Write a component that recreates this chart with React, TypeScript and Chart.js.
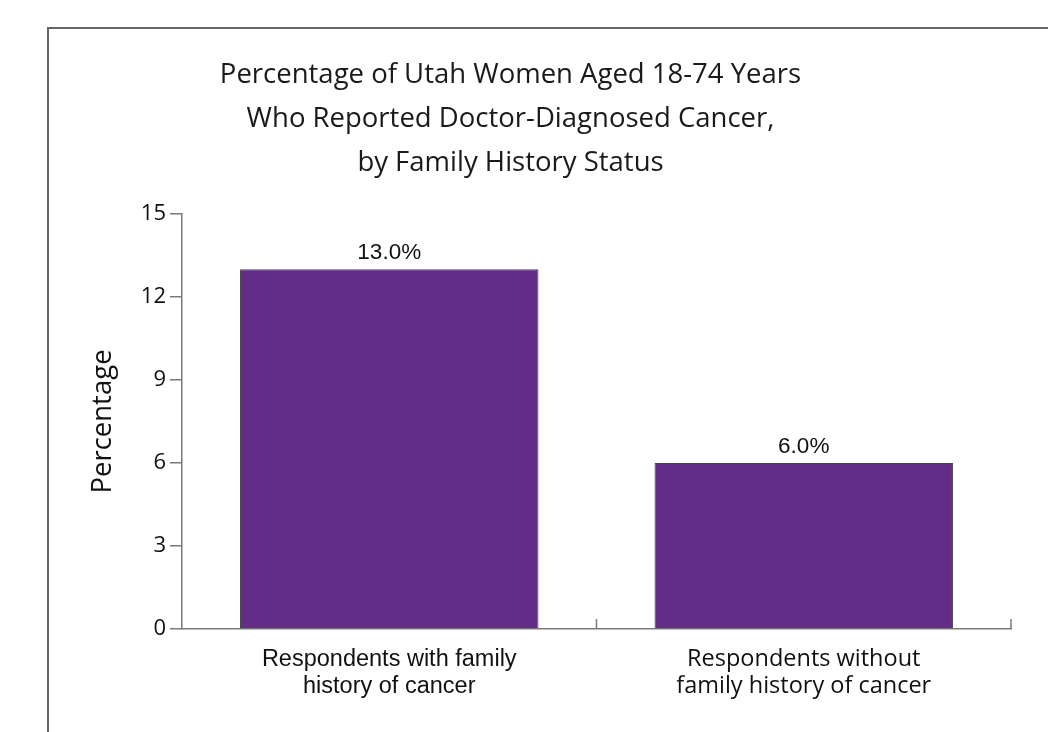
import React, { useEffect, useRef } from "react";
import { Chart, registerables } from "chart.js";

Chart.register(...registerables);

const categories: string[][] = [
  ["Respondents with family", "history of cancer"],
  ["Respondents without", "family history of cancer"],
];
const values: number[] = [13.0, 6.0];
const valueLabels: string[] = ["13.0%", "6.0%"];
const titleLines: string[] = [
  "Percentage of Utah Women Aged 18-74 Years",
  "Who Reported Doctor-Diagnosed Cancer,",
  "by Family History Status",
];
const yTitle = "Percentage";
const yMin = 0;
const yMax = 15;
const yStep = 3;

const MYRIAD = "'Open Sans', 'Noto Sans', sans-serif";
const ARIAL = "'Liberation Sans', Arial, sans-serif";
const AXIS = "#7a7a7a";

const framePlugin = {
  id: "frame",
  beforeDraw(chart: any) {
    const ctx = chart.ctx;
    ctx.save();
    ctx.strokeStyle = "#666";
    ctx.lineWidth = 2;
    ctx.beginPath();
    ctx.moveTo(48, 732);
    ctx.lineTo(48, 28);
    ctx.lineTo(1048, 28);
    ctx.stroke();
    ctx.restore();
  },
};

const xTickPlugin = {
  id: "xticks",
  afterDraw(chart: any) {
    const ctx = chart.ctx;
    const x = chart.scales.x;
    const area = chart.chartArea;
    const n = x.ticks.length;
    ctx.save();
    ctx.strokeStyle = AXIS;
    ctx.lineWidth = 1.5;
    for (let i = 0; i < n; i++) {
      const px =
        i < n - 1
          ? (x.getPixelForTick(i) + x.getPixelForTick(i + 1)) / 2
          : area.right;
      ctx.beginPath();
      ctx.moveTo(px, area.bottom);
      ctx.lineTo(px, area.bottom - 10);
      ctx.stroke();
    }
    ctx.restore();
  },
};

const valueLabelPlugin = {
  id: "valueLabels",
  afterDatasetsDraw(chart: any) {
    const ctx = chart.ctx;
    const meta = chart.getDatasetMeta(0);
    ctx.save();
    ctx.font = `22.5px ${ARIAL}`;
    ctx.fillStyle = "#111";
    ctx.textAlign = "center";
    ctx.textBaseline = "alphabetic";
    meta.data.forEach((bar: any, i: number) => {
      ctx.fillText(valueLabels[i], bar.x, bar.y - 10);
    });
    ctx.restore();
  },
};

export default function App() {
  const ref = useRef<HTMLCanvasElement>(null);
  useEffect(() => {
    if (!ref.current) return;
    const chart = new Chart(ref.current, {
      type: "bar",
      data: {
        labels: categories,
        datasets: [
          {
            data: values,
            backgroundColor: "#632d87",
            borderColor: "#444",
            borderWidth: 1,
            categoryPercentage: 1,
            barPercentage: 0.72,
          },
        ],
      },
      options: {
        responsive: false,
        animation: false,
        layout: { padding: { left: 10, right: 37, top: 0, bottom: 0 } },
        plugins: {
          legend: { display: false },
          tooltip: { enabled: false },
          title: {
            display: true,
            text: titleLines,
            color: "#1a1a1a",
            font: { family: MYRIAD, size: 27.5, weight: "normal", lineHeight: 1.6 },
            padding: { top: 53, bottom: 29 },
          },
        },
        scales: {
          x: {
            grid: { display: false, drawTicks: false },
            border: { display: true, color: AXIS, width: 1.5 },
            ticks: {
              color: "#111",
              padding: 17,
              maxRotation: 0,
              font: (c: any) =>
                c.index === 0
                  ? { family: ARIAL, size: 23.5, lineHeight: 1.15 }
                  : { family: MYRIAD, size: 23.5, lineHeight: 1.15 },
            },
            afterFit(scale: any) {
              scale.height = 103;
            },
          },
          y: {
            min: yMin,
            max: yMax,
            ticks: {
              stepSize: yStep,
              color: "#111",
              padding: 4,
              font: { family: MYRIAD, size: 22 },
            },
            grid: {
              drawOnChartArea: false,
              drawTicks: true,
              tickLength: 12,
              color: AXIS,
              lineWidth: 1.5,
            },
            border: { display: true, color: AXIS, width: 1.5 },
            title: {
              display: true,
              text: yTitle,
              color: "#111",
              font: { family: MYRIAD, size: 27.5 },
              padding: { top: 77, bottom: 0 },
            },
            afterFit(scale: any) {
              scale.width = 172;
            },
          },
        },
      },
      plugins: [framePlugin, xTickPlugin, valueLabelPlugin],
    });
    return () => chart.destroy();
  }, []);
  return (
    <div style={{ position: "fixed", left: 0, top: 0, width: 1048, height: 732, background: "#fff" }}>
      <canvas ref={ref} width={1048} height={732} style={{ display: "block" }} />
    </div>
  );
}
